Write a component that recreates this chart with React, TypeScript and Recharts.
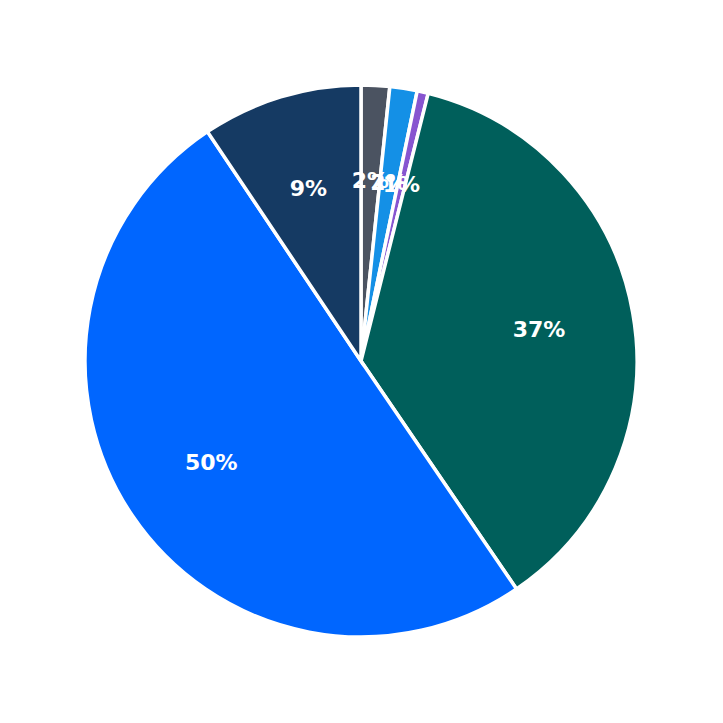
import React from "react";
import { PieChart, Pie, Cell } from "recharts";

const names = ["A", "B", "C", "D", "E", "F"];
const values = [1.67, 1.6, 0.65, 36.6, 50.2, 9.4];
const labels = ["2%", "2%", "1%", "37%", "50%", "9%"];
const colors = ["#4b5361", "#1490e6", "#8755d0", "#005f5b", "#0066ff", "#153a63"];

const data = names.map((n, i) => ({ name: n, value: values[i], label: labels[i] }));

const RADIAN = Math.PI / 180;

const renderLabel = (props: any) => {
  const { cx, cy, midAngle, outerRadius, index } = props;
  const r = outerRadius * 0.655;
  const x = cx + r * Math.cos(-midAngle * RADIAN);
  const y = cy + r * Math.sin(-midAngle * RADIAN);
  return (
    <text
      x={x}
      y={y}
      fill="#ffffff"
      textAnchor="middle"
      dominantBaseline="central"
      fontFamily="DejaVu Sans"
      fontWeight="bold"
      fontSize={22}
    >
      {labels[index]}
    </text>
  );
};

export default function App() {
  return (
    <div style={{ position: "absolute", left: 0, top: 0, width: 723, height: 723, background: "#fff" }}>
      <PieChart width={723} height={723} margin={{ top: 0, right: 0, bottom: 0, left: 0 }}>
        <Pie
          data={data}
          dataKey="value"
          nameKey="name"
          cx={361}
          cy={361}
          outerRadius={276}
          startAngle={90}
          endAngle={-270}
          stroke="#ffffff"
          strokeWidth={3.5}
          label={renderLabel}
          labelLine={false}
          isAnimationActive={false}
        >
          {data.map((d, i) => (
            <Cell key={d.name} fill={colors[i]} />
          ))}
        </Pie>
      </PieChart>
    </div>
  );
}
